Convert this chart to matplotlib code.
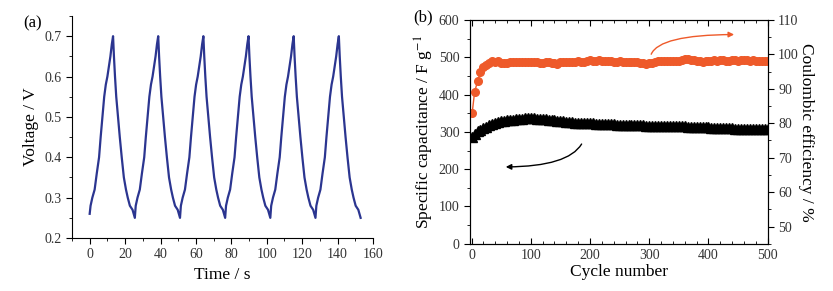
import matplotlib
matplotlib.use('Agg')
import matplotlib.pyplot as plt
from matplotlib.ticker import AutoMinorLocator, MultipleLocator

plt.rcParams['font.family'] = ['Liberation Serif', 'DejaVu Serif']
plt.rcParams['mathtext.fontset'] = 'stix'

# (a) galvanostatic charge-discharge
time_s = [0,
          0.5, 1.5, 2.8, 4, 5.3, 6.2, 7.2, 8.2, 9.1, 10, 11, 11.7, 12.5,
          13.2, 13.7, 14.3, 15, 16, 17, 18.1, 19.3, 20.5, 21.5, 22.7, 24.2, 25.5,
          26, 27, 28.3, 29.5, 30.8, 31.7, 32.7, 33.7, 34.6, 35.5, 36.5, 37.2, 38,
          38.7, 39.2, 39.8, 40.5, 41.5, 42.5, 43.6, 44.8, 46, 47, 48.2, 49.7, 51,
          51.5, 52.5, 53.8, 55, 56.3, 57.2, 58.2, 59.2, 60.1, 61, 62, 62.7, 63.5,
          64.2, 64.7, 65.3, 66, 67, 68, 69.1, 70.3, 71.5, 72.5, 73.7, 75.2, 76.5,
          77, 78, 79.3, 80.5, 81.8, 82.7, 83.7, 84.7, 85.6, 86.5, 87.5, 88.2, 89,
          89.7, 90.2, 90.8, 91.5, 92.5, 93.5, 94.6, 95.8, 97, 98, 99.2, 100.7, 102,
          102.5, 103.5, 104.8, 106, 107.3, 108.2, 109.2, 110.2, 111.1, 112, 113, 113.7, 114.5,
          115.2, 115.7, 116.3, 117, 118, 119, 120.1, 121.3, 122.5, 123.5, 124.7, 126.2, 127.5,
          128, 129, 130.3, 131.5, 132.8, 133.7, 134.7, 135.7, 136.6, 137.5, 138.5, 139.2, 140,
          140.7, 141.2, 141.8, 142.5, 143.5, 144.5, 145.6, 146.8, 148, 149, 150.2, 151.7, 153]
voltage_v = [0.26,
             0.28, 0.30, 0.32, 0.36, 0.40, 0.45, 0.50, 0.55, 0.58, 0.60, 0.63, 0.65, 0.68,
             0.70, 0.65, 0.60, 0.55, 0.50, 0.45, 0.40, 0.35, 0.32, 0.30, 0.28, 0.27, 0.25,
             0.28, 0.30, 0.32, 0.36, 0.40, 0.45, 0.50, 0.55, 0.58, 0.60, 0.63, 0.65, 0.68,
             0.70, 0.65, 0.60, 0.55, 0.50, 0.45, 0.40, 0.35, 0.32, 0.30, 0.28, 0.27, 0.25,
             0.28, 0.30, 0.32, 0.36, 0.40, 0.45, 0.50, 0.55, 0.58, 0.60, 0.63, 0.65, 0.68,
             0.70, 0.65, 0.60, 0.55, 0.50, 0.45, 0.40, 0.35, 0.32, 0.30, 0.28, 0.27, 0.25,
             0.28, 0.30, 0.32, 0.36, 0.40, 0.45, 0.50, 0.55, 0.58, 0.60, 0.63, 0.65, 0.68,
             0.70, 0.65, 0.60, 0.55, 0.50, 0.45, 0.40, 0.35, 0.32, 0.30, 0.28, 0.27, 0.25,
             0.28, 0.30, 0.32, 0.36, 0.40, 0.45, 0.50, 0.55, 0.58, 0.60, 0.63, 0.65, 0.68,
             0.70, 0.65, 0.60, 0.55, 0.50, 0.45, 0.40, 0.35, 0.32, 0.30, 0.28, 0.27, 0.25,
             0.28, 0.30, 0.32, 0.36, 0.40, 0.45, 0.50, 0.55, 0.58, 0.60, 0.63, 0.65, 0.68,
             0.70, 0.65, 0.60, 0.55, 0.50, 0.45, 0.40, 0.35, 0.32, 0.30, 0.28, 0.27, 0.25]

# (b) cycling stability
cycles = [1] + list(range(5, 501, 5))
capacitance = [285, 295, 302, 306, 310, 314, 318, 321, 324, 326,
               328, 330, 331, 332, 333, 334, 335, 335, 336, 336,
               336, 336, 335, 335, 334, 334, 333, 332, 331, 330,
               329, 328, 327, 326, 326, 325, 325, 324, 324, 323,
               323, 323, 322, 322, 321, 321, 320, 320, 320, 319,
               319, 319, 319, 319, 318, 318, 318, 318, 318, 317,
               317, 317, 317, 317, 316, 316, 316, 316, 315, 315,
               315, 315, 315, 314, 314, 314, 313, 313, 312, 312,
               312, 311, 311, 311, 310, 310, 310, 310, 310, 309,
               309, 309, 309, 309, 308, 308, 308, 308, 308, 308,
               308]
coulombic = [83.0, 89.0, 92.2, 95.0, 96.3, 97.0, 97.4, 98.0, 97.8, 98.0,
             97.5, 97.4, 97.6, 97.7, 97.8, 97.9, 97.8, 97.9, 97.8, 97.9,
             97.8, 97.7, 97.8, 97.6, 97.5, 97.7, 97.8, 97.6, 97.5, 97.3,
             97.7, 97.8, 97.9, 97.7, 97.8, 97.9, 98.0, 97.9, 97.8, 98.1,
             98.3, 98.2, 98.1, 98.3, 98.2, 98.0, 98.1, 98.0, 97.9, 97.8,
             98.0, 97.9, 97.8, 97.7, 97.8, 97.9, 97.7, 97.6, 97.4, 97.3,
             97.5, 97.6, 97.8, 98.0, 98.1, 98.0, 98.1, 98.2, 98.1, 98.0,
             98.2, 98.3, 98.6, 98.8, 98.5, 98.3, 98.1, 98.0, 97.9, 98.0,
             98.2, 98.1, 98.3, 98.2, 98.4, 98.3, 98.2, 98.1, 98.3, 98.4,
             98.2, 98.3, 98.4, 98.3, 98.2, 98.3, 98.1, 98.0, 98.2, 98.1,
             98.0]

TICK_SIZE = 10
LABEL_SIZE = 12.5

fig = plt.figure(figsize=(8.33, 2.91), dpi=100)

# ---- panel (a)
ax1 = fig.add_axes([0.0864, 0.182, 0.3614, 0.763])
ax1.plot(time_s, voltage_v, color='#2b3590', linewidth=1.6)
ax1.set_xlim(-10, 160)
ax1.set_ylim(0.2, 0.75)
ax1.xaxis.set_major_locator(MultipleLocator(20))
ax1.xaxis.set_minor_locator(MultipleLocator(10))
ax1.yaxis.set_major_locator(MultipleLocator(0.1))
ax1.yaxis.set_minor_locator(MultipleLocator(0.05))
ax1.spines['top'].set_visible(False)
ax1.spines['right'].set_visible(False)
ax1.tick_params(which='both', direction='out', labelsize=TICK_SIZE, labelcolor='#333333')
ax1.tick_params(which='major', length=4)
ax1.tick_params(which='minor', length=2.5)
ax1.set_xlabel('Time / s', fontsize=LABEL_SIZE)
ax1.set_ylabel('Voltage / V', fontsize=LABEL_SIZE)
fig.text(0.028, 0.905, '(a)', fontsize=12)

# ---- panel (b)
ax2 = fig.add_axes([0.564, 0.1625, 0.3576, 0.7685])
ax2.plot(cycles, capacitance, linestyle='none', marker='^', color='black',
         markersize=6.5)
ax2.set_xlim(-3, 500)
ax2.set_ylim(0, 600)
ax2.xaxis.set_major_locator(MultipleLocator(100))
ax2.xaxis.set_minor_locator(AutoMinorLocator(5))
ax2.yaxis.set_major_locator(MultipleLocator(100))
ax2.yaxis.set_minor_locator(AutoMinorLocator(2))
ax2.tick_params(axis='x', which='both', direction='in', top=True,
                labelsize=TICK_SIZE, labelcolor='#333333')
ax2.tick_params(axis='y', which='both', direction='out',
                labelsize=TICK_SIZE, labelcolor='#333333')
ax2.tick_params(which='major', length=4)
ax2.tick_params(which='minor', length=2.5)
ax2.set_xlabel('Cycle number', fontsize=LABEL_SIZE, labelpad=2)
ax2.set_ylabel('Specific capacitance / F g$^{-1}$', fontsize=LABEL_SIZE, labelpad=2)

ax3 = ax2.twinx()
ax3.plot(cycles, coulombic, linestyle='-', linewidth=1, marker='o',
         color='#ee5a2a', markersize=5.5)
ax3.set_ylim(45, 110)
ax3.yaxis.set_major_locator(MultipleLocator(10))
ax3.yaxis.set_minor_locator(AutoMinorLocator(2))
ax3.tick_params(axis='y', which='both', direction='out',
                labelsize=TICK_SIZE, labelcolor='#333333')
ax3.tick_params(which='major', length=4)
ax3.tick_params(which='minor', length=2.5)
ax3.set_ylabel('Coulombic efficiency / %', fontsize=LABEL_SIZE, rotation=270,
               labelpad=11)
fig.text(0.496, 0.925, '(b)', fontsize=12)

# guide arrows
ax2.annotate('', xy=(53, 206), xytext=(188, 274),
             arrowprops=dict(arrowstyle='-|>', color='black', lw=1,
                             mutation_scale=8,
                             connectionstyle='angle3,angleA=65,angleB=0'))
ax3.annotate('', xy=(448, 105.8), xytext=(302, 99.3),
             arrowprops=dict(arrowstyle='-|>', color='#ee5a2a', lw=1,
                             mutation_scale=8,
                             connectionstyle='angle3,angleA=80,angleB=0'))

fig.savefig('out.png', dpi=100)
